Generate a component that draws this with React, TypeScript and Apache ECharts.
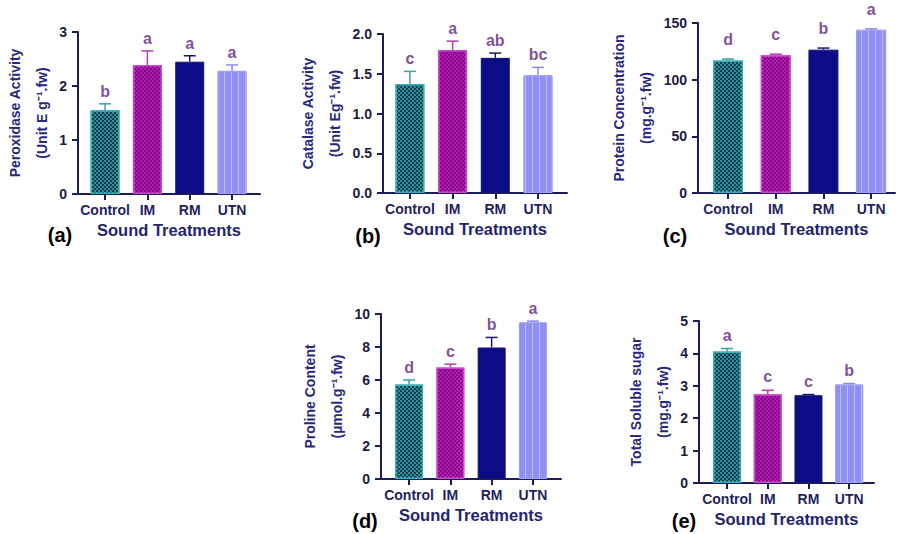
import React, { useEffect, useRef } from "react";
import * as echarts from "echarts";

const categories = ["Control", "IM", "RM", "UTN"];

const peroxidase = [1.55, 2.39, 2.45, 2.28];
const peroxidaseErr = [0.12, 0.26, 0.11, 0.11];
const peroxidaseLetters = ["b", "a", "a", "a"];

const catalase = [1.37, 1.8, 1.7, 1.48];
const catalaseErr = [0.16, 0.11, 0.06, 0.1];
const catalaseLetters = ["c", "a", "ab", "bc"];

const protein = [117, 121.5, 126.5, 144];
const proteinErr = [1.2, 1.0, 1.4, 0.8];
const proteinLetters = ["d", "c", "b", "a"];

const proline = [5.72, 6.76, 7.97, 9.49];
const prolineErr = [0.28, 0.2, 0.61, 0.08];
const prolineLetters = ["d", "c", "b", "a"];

const sugar = [4.06, 2.74, 2.71, 3.04];
const sugarErr = [0.09, 0.12, 0.02, 0.03];
const sugarLetters = ["a", "c", "c", "b"];

const AXIS = "#1c1c5a";
const TICK_TXT = "#1b1b40";
const NAME_TXT = "#28287f";
const LETTER = "#5e2280";
const FONT = "Liberation Sans, Arial, sans-serif";

const barStyles = [
  {
    color: "#2b8f95",
    borderColor: "#3aaeb2",
    borderWidth: 1.5,
    decal: {
      symbol: "rect",
      symbolSize: 1,
      color: "#173d55",
      dashArrayX: [[2, 2], [0, 2, 2, 0]],
      dashArrayY: [2, 0],
      rotation: 0,
    },
  },
  {
    color: "#b21cb2",
    borderColor: "#c84ac8",
    borderWidth: 1.5,
    decal: {
      symbol: "rect",
      symbolSize: 1,
      color: "#830a86",
      dashArrayX: [[2, 2], [0, 2, 2, 0]],
      dashArrayY: [2, 0],
      rotation: 0,
    },
  },
  { color: "#0c0c86", borderColor: "#16166e", borderWidth: 1 },
  {
    color: "#8f8ff4",
    borderColor: "#a0a0f6",
    borderWidth: 1,
    decal: {
      symbol: "rect",
      symbolSize: 1,
      color: "rgba(200,200,255,0.8)",
      dashArrayX: [1, 6],
      dashArrayY: [4, 0],
      rotation: 0,
    },
  },
];
const errColors = ["#3aa0a6", "#b43cb0", "#1a1a74", "#8c8cec"];

type Panel = {
  values: number[];
  errs: number[];
  letters: string[];
  yMax: number;
  yInterval: number;
  yDecimals: number;
  title: string;
  grid: { left: number; top: number; width: number; height: number };
  xMin: number;
  xMax: number;
  barWidth: number;
  nameGap: number;
  letterDist: number;
};

const panels: Panel[] = [
  {
    values: peroxidase, errs: peroxidaseErr, letters: peroxidaseLetters,
    yMax: 3, yInterval: 1, yDecimals: 0,
    title: "Peroxidase Activity\n(Unit E g⁻¹.fw)",
    grid: { left: 78, top: 32, width: 182, height: 162 },
    xMin: -0.64, xMax: 3.66, barWidth: 29, nameGap: 21, letterDist: 4,
  },
  {
    values: catalase, errs: catalaseErr, letters: catalaseLetters,
    yMax: 2, yInterval: 0.5, yDecimals: 1,
    title: "Catalase Activity\n(Unit Eg⁻¹.fw)",
    grid: { left: 383, top: 34, width: 184, height: 159 },
    xMin: -0.63, xMax: 3.68, barWidth: 29, nameGap: 32, letterDist: 4,
  },
  {
    values: protein, errs: proteinErr, letters: proteinLetters,
    yMax: 150, yInterval: 50, yDecimals: 0,
    title: "Protein Concentration\n(mg.g⁻¹.fw)",
    grid: { left: 698, top: 23, width: 197, height: 170 },
    xMin: -0.63, xMax: 3.5, barWidth: 30, nameGap: 36, letterDist: 11,
  },
  {
    values: proline, errs: prolineErr, letters: prolineLetters,
    yMax: 10, yInterval: 2, yDecimals: 0,
    title: "Proline Content\n(µmol.g⁻¹.fw)",
    grid: { left: 381, top: 314, width: 180, height: 165 },
    xMin: -0.68, xMax: 3.68, barWidth: 28, nameGap: 28, letterDist: 4,
  },
  {
    values: sugar, errs: sugarErr, letters: sugarLetters,
    yMax: 5, yInterval: 1, yDecimals: 0,
    title: "Total Soluble sugar\n(mg.g⁻¹.fw)",
    grid: { left: 699, top: 321, width: 175, height: 162 },
    xMin: -0.69, xMax: 3.61, barWidth: 28, nameGap: 20, letterDist: 5,
  },
];

const panelTags = [
  { text: "(a)", x: 60, y: 235 },
  { text: "(b)", x: 368, y: 236 },
  { text: "(c)", x: 675, y: 236 },
  { text: "(d)", x: 365, y: 521 },
  { text: "(e)", x: 684, y: 521 },
];

export default function App() {
  const ref = useRef<HTMLDivElement>(null);
  useEffect(() => {
    if (!ref.current) return;
    const chart = echarts.init(ref.current, undefined, { renderer: "svg" });
    const idx = [0, 1, 2, 3];
    const grids: any[] = [];
    const xAxes: any[] = [];
    const yAxes: any[] = [];
    const series: any[] = [];
    panels.forEach((p, k) => {
      grids.push({ ...p.grid, containLabel: false });
      xAxes.push({
        type: "value",
        gridIndex: k,
        min: p.xMin,
        max: p.xMax,
        splitLine: { show: false },
        axisLine: { show: true, onZero: false, lineStyle: { color: AXIS, width: 2 } },
        axisTick: {
          show: true,
          customValues: idx,
          length: 6,
          lineStyle: { color: AXIS, width: 2 },
        },
        axisLabel: {
          customValues: idx,
          formatter: (v: number) => categories[Math.round(v)] ?? "",
          fontFamily: FONT,
          fontWeight: "bold",
          fontSize: 14,
          color: "#1f1f5f",
          margin: 9,
        },
        name: "Sound Treatments",
        nameLocation: "middle",
        nameGap: 27,
        nameTextStyle: {
          fontFamily: FONT,
          fontWeight: "bold",
          fontSize: 16.5,
          color: "#24246e",
        },
      });
      yAxes.push({
        type: "value",
        gridIndex: k,
        min: 0,
        max: p.yMax,
        interval: p.yInterval,
        splitLine: { show: false },
        axisLine: { show: true, onZero: false, lineStyle: { color: AXIS, width: 2 } },
        axisTick: { show: true, length: 6, lineStyle: { color: AXIS, width: 2 } },
        axisLabel: {
          formatter: (v: number) => v.toFixed(p.yDecimals),
          fontFamily: FONT,
          fontWeight: "bold",
          fontSize: 14,
          color: TICK_TXT,
          margin: 11,
        },
        name: p.title,
        nameLocation: "middle",
        nameRotate: 90,
        nameGap: p.nameGap,
        nameTextStyle: {
          fontFamily: FONT,
          fontWeight: "bold",
          fontSize: 14,
          lineHeight: 27,
          color: NAME_TXT,
          align: "center",
        },
      });
      series.push({
        type: "bar",
        xAxisIndex: k,
        yAxisIndex: k,
        barWidth: p.barWidth,
        data: p.values.map((v, i) => ({ value: [i, v], itemStyle: barStyles[i] })),
        z: 2,
      });
      series.push({
        type: "custom",
        xAxisIndex: k,
        yAxisIndex: k,
        z: 3,
        data: p.values.map((v, i) => [i, v, v + p.errs[i]]),
        renderItem: (params: any, api: any) => {
          const x = api.value(0);
          const top = api.coord([x, api.value(2)]);
          const bot = api.coord([x, api.value(1)]);
          const c = errColors[params.dataIndex];
          const hw = 6;
          return {
            type: "group",
            children: [
              {
                type: "line",
                shape: { x1: top[0], y1: top[1], x2: bot[0], y2: bot[1] },
                style: { stroke: c, lineWidth: 1.5 },
              },
              {
                type: "line",
                shape: { x1: top[0] - hw, y1: top[1], x2: top[0] + hw, y2: top[1] },
                style: { stroke: c, lineWidth: 1.5 },
              },
            ],
          };
        },
      });
      series.push({
        type: "scatter",
        xAxisIndex: k,
        yAxisIndex: k,
        symbolSize: 1,
        itemStyle: { color: "rgba(0,0,0,0)" },
        z: 4,
        data: p.values.map((v, i) => [i, v + p.errs[i]]),
        label: {
          show: true,
          position: "top",
          distance: p.letterDist,
          formatter: (prm: any) => p.letters[prm.dataIndex],
          fontFamily: FONT,
          fontWeight: "bold",
          fontSize: 16,
          color: LETTER,
        },
      });
    });
    chart.setOption({
      animation: false,
      backgroundColor: "#ffffff",
      grid: grids,
      xAxis: xAxes,
      yAxis: yAxes,
      series,
      graphic: panelTags.map((t) => ({
        type: "text",
        x: t.x,
        y: t.y,
        style: {
          text: t.text,
          fontFamily: FONT,
          fontWeight: "bold",
          fontSize: 20,
          fill: "#000000",
          align: "center",
          verticalAlign: "middle",
        },
      })),
    });
    return () => chart.dispose();
  }, []);
  return (
    <div
      ref={ref}
      style={{ position: "absolute", left: 0, top: 0, width: 898, height: 534 }}
    />
  );
}
